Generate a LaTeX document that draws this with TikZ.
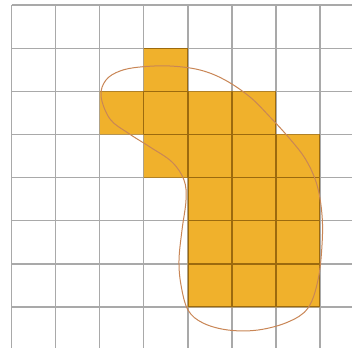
\documentclass[tikz,border=0pt]{standalone}
\definecolor{gridgray}{HTML}{A9A9A9}
\definecolor{cellorange}{HTML}{F0B12C}
\definecolor{griddark}{HTML}{9C6A0E}
\definecolor{curvecol}{HTML}{C98656}
\tikzset{
  gridline/.style={gridgray, line width=1.3pt},
  gridinner/.style={griddark, line width=1.3pt},
  cellfill/.style={fill=cellorange},
  blob/.style={curvecol, line width=1pt}
}
\begin{document}
\begin{tikzpicture}[x=1pt,y=-1pt]
\useasboundingbox (0,0) rectangle (352,348);
\fill[white] (0,0) rectangle (352,348);
\begin{scope}[shift={(11.7,5)}, x=44.04pt, y=-43.15pt]
  \foreach \i in {0,...,7} \draw[gridline] (\i,0) -- (\i,7.95);
  \foreach \j in {0,...,7} \draw[gridline] (0,\j) -- (7.73,\j);
  \path[cellfill] (3,1) -- (4,1) -- (4,2) -- (6,2) -- (6,3) -- (7,3) -- (7,7)
     -- (4,7) -- (4,4) -- (3,4) -- (3,3) -- (2,3) -- (2,2) -- (3,2) -- cycle;
  \begin{scope}
    \clip (3,1) -- (4,1) -- (4,2) -- (6,2) -- (6,3) -- (7,3) -- (7,7)
     -- (4,7) -- (4,4) -- (3,4) -- (3,3) -- (2,3) -- (2,2) -- (3,2) -- cycle;
    \foreach \i in {2,...,7} \draw[gridinner] (\i,0) -- (\i,7.95);
    \foreach \j in {1,...,7} \draw[gridinner] (0,\j) -- (7.73,\j);
  \end{scope}
\end{scope}
\draw[blob] plot[smooth cycle, tension=0.6] coordinates {
  (101,96) (106,80) (120,71) (140,67) (170,66) (200,70) (225,80) (250,97)
  (270,117) (290,139) (306,160) (317,185) (322,215) (322,245) (318,280)
  (308,308) (288,322) (258,330) (228,330) (203,323) (188,310) (181,285)
  (179,260) (182,230) (186,200) (184,180) (172,162) (150,147) (128,133)
  (110,119)};
\end{tikzpicture}
\end{document}
